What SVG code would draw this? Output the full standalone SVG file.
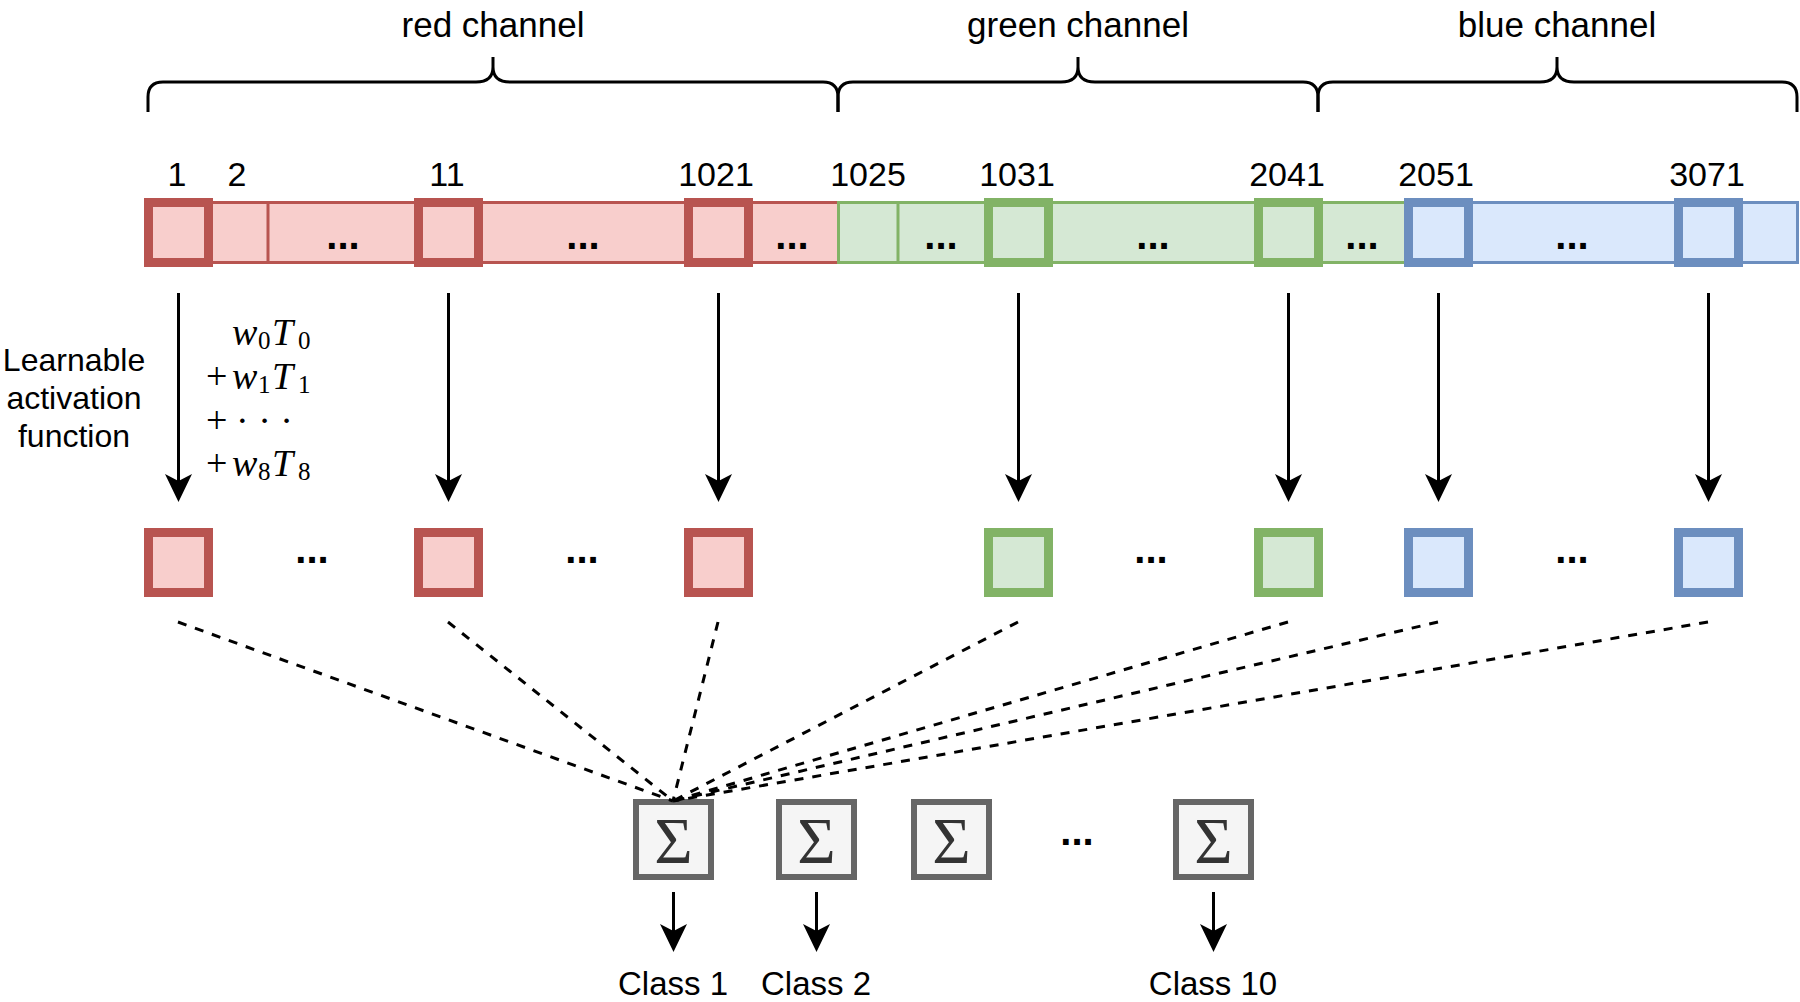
<svg xmlns="http://www.w3.org/2000/svg" width="1800" height="1002" viewBox="0 0 1800 1002">
<style>
.lbl{font-family:"Liberation Sans",Arial,sans-serif;fill:#000;text-anchor:middle}
.ch{font-size:35px}
.num{font-size:34px}
.side{font-size:32px}
.cls{font-size:33px}
.dots{font-family:"Liberation Sans",Arial,sans-serif;font-weight:bold;font-size:40px;text-anchor:middle;fill:#000}
.math{font-family:"Liberation Serif","Times New Roman",serif;font-style:italic;font-size:38px;fill:#000}
.up{font-style:normal;font-size:38px}
.sub{font-style:normal;font-size:25px}
.brace{fill:none;stroke:#000;stroke-width:3}
.r{fill:#f8cecc;stroke:#b85450}
.g{fill:#d5e8d4;stroke:#82b366}
.b{fill:#dae8fc;stroke:#6c8ebf}
.thin{stroke-width:3}
.thick{stroke-width:9}
.sig{fill:#f5f5f5;stroke:#666666;stroke-width:6}
.sigt{font-family:"Liberation Serif","Times New Roman",serif;font-size:66px;fill:#333333;text-anchor:middle}
.arr{stroke:#000;stroke-width:3;fill:none;marker-end:url(#ah)}
.dash{stroke:#000;stroke-width:3;fill:none;stroke-dasharray:9 9}
</style>
<defs>
<marker id="ah" markerUnits="userSpaceOnUse" markerWidth="60" markerHeight="60" viewBox="-40 -30 60 60" refX="-7" refY="0" orient="auto">
<path d="M0,0 L-28,-13.5 L-21,0 L-28,13.5 Z" fill="#000"/>
</marker>
</defs>

<g id="braces">
<path class="brace" d="M148,112 V97 Q148,82 163,82 H476 Q493,82 493,67 V57 V67 Q493,82 510,82 H823 Q838,82 838,97 V112"/>
<path class="brace" d="M838,112 V97 Q838,82 853,82 H1061 Q1078,82 1078,67 V57 V67 Q1078,82 1095,82 H1303 Q1318,82 1318,97 V112"/>
<path class="brace" d="M1318,112 V97 Q1318,82 1333,82 H1540 Q1557,82 1557,67 V57 V67 Q1557,82 1574,82 H1782 Q1797,82 1797,97 V112"/>
</g>
<g id="channel-labels">
<text class="lbl ch" x="493" y="37">red channel</text>
<text class="lbl ch" x="1078" y="37">green channel</text>
<text class="lbl ch" x="1557" y="37">blue channel</text>
</g>
<g id="index-labels">
<text class="lbl num" x="177" y="186">1</text>
<text class="lbl num" x="237" y="186">2</text>
<text class="lbl num" x="447" y="186">11</text>
<text class="lbl num" x="716" y="186">1021</text>
<text class="lbl num" x="868" y="186">1025</text>
<text class="lbl num" x="1017" y="186">1031</text>
<text class="lbl num" x="1287" y="186">2041</text>
<text class="lbl num" x="1436" y="186">2051</text>
<text class="lbl num" x="1707" y="186">3071</text>
</g>

<g id="input-bar">
<rect class="r thin" x="148.5" y="202.5" width="690" height="60"/>
<rect class="g thin" x="838.5" y="202.5" width="570" height="60"/>
<rect class="b thin" x="1408.5" y="202.5" width="389" height="60"/>
<line x1="268" y1="202.5" x2="268" y2="262.5" stroke="#b85450" stroke-width="3"/>
<line x1="898" y1="202.5" x2="898" y2="262.5" stroke="#82b366" stroke-width="3"/>
<text class="dots" x="343" y="249">...</text>
<text class="dots" x="583" y="249">...</text>
<text class="dots" x="792" y="249">...</text>
<text class="dots" x="941" y="249">...</text>
<text class="dots" x="1153" y="249">...</text>
<text class="dots" x="1362" y="249">...</text>
<text class="dots" x="1572" y="249">...</text>
</g>
<g id="in-1"><rect class="r thick" x="148.5" y="202.5" width="60" height="60"/></g>
<g id="in-11"><rect class="r thick" x="418.5" y="202.5" width="60" height="60"/></g>
<g id="in-1021"><rect class="r thick" x="688.5" y="202.5" width="60" height="60"/></g>
<g id="in-1031"><rect class="g thick" x="988.5" y="202.5" width="60" height="60"/></g>
<g id="in-2041"><rect class="g thick" x="1258.5" y="202.5" width="60" height="60"/></g>
<g id="in-2051"><rect class="b thick" x="1408.5" y="202.5" width="60" height="60"/></g>
<g id="in-3071"><rect class="b thick" x="1678.5" y="202.5" width="60" height="60"/></g>

<g id="activation-label">
<text class="lbl side" y="371"><tspan x="74">Learnable</tspan><tspan x="74" dy="38">activation</tspan><tspan x="74" dy="38">function</tspan></text>
</g>
<g id="formula">
<text class="math" y="345"><tspan x="232">w</tspan><tspan class="sub" x="258" dy="4">0</tspan><tspan x="272" dy="-4">T</tspan><tspan class="sub" x="298" dy="4">0</tspan></text>
<text class="math" y="389"><tspan class="up" x="206">+</tspan><tspan x="232">w</tspan><tspan class="sub" x="258" dy="4">1</tspan><tspan x="272" dy="-4">T</tspan><tspan class="sub" x="298" dy="4">1</tspan></text>
<text class="math" y="433"><tspan class="up" x="206">+</tspan><tspan class="up" x="236">· · ·</tspan></text>
<text class="math" y="476"><tspan class="up" x="206">+</tspan><tspan x="232">w</tspan><tspan class="sub" x="258" dy="4">8</tspan><tspan x="272" dy="-4">T</tspan><tspan class="sub" x="298" dy="4">8</tspan></text>
</g>

<g id="out-1"><rect class="r thick" x="148.5" y="532.5" width="60" height="60"/></g>
<g id="out-11"><rect class="r thick" x="418.5" y="532.5" width="60" height="60"/></g>
<g id="out-1021"><rect class="r thick" x="688.5" y="532.5" width="60" height="60"/></g>
<g id="out-1031"><rect class="g thick" x="988.5" y="532.5" width="60" height="60"/></g>
<g id="out-2041"><rect class="g thick" x="1258.5" y="532.5" width="60" height="60"/></g>
<g id="out-2051"><rect class="b thick" x="1408.5" y="532.5" width="60" height="60"/></g>
<g id="out-3071"><rect class="b thick" x="1678.5" y="532.5" width="60" height="60"/></g>
<g id="row2-dots">
<text class="dots" x="312" y="563">...</text>
<text class="dots" x="582" y="563">...</text>
<text class="dots" x="1151" y="563">...</text>
<text class="dots" x="1572" y="563">...</text>
</g>

<g id="sum-1"><rect class="sig" x="636" y="802" width="75" height="75"/><text class="sigt" x="673.5" y="863">Σ</text></g>
<g id="sum-2"><rect class="sig" x="779" y="802" width="75" height="75"/><text class="sigt" x="816.5" y="863">Σ</text></g>
<g id="sum-3"><rect class="sig" x="914" y="802" width="75" height="75"/><text class="sigt" x="951.5" y="863">Σ</text></g>
<g id="sum-10"><rect class="sig" x="1176" y="802" width="75" height="75"/><text class="sigt" x="1213.5" y="863">Σ</text></g>
<text class="dots" x="1077" y="845">...</text>

<g id="class-labels">
<text class="lbl cls" x="673" y="995">Class 1</text>
<text class="lbl cls" x="816" y="995">Class 2</text>
<text class="lbl cls" x="1213" y="995">Class 10</text>
</g>

<g id="connectors">
<line class="arr" x1="178.5" y1="293" x2="178.5" y2="495"/>
<line class="arr" x1="448.5" y1="293" x2="448.5" y2="495"/>
<line class="arr" x1="718.5" y1="293" x2="718.5" y2="495"/>
<line class="arr" x1="1018.5" y1="293" x2="1018.5" y2="495"/>
<line class="arr" x1="1288.5" y1="293" x2="1288.5" y2="495"/>
<line class="arr" x1="1438.5" y1="293" x2="1438.5" y2="495"/>
<line class="arr" x1="1708.5" y1="293" x2="1708.5" y2="495"/>
<line class="dash" x1="178" y1="622" x2="673" y2="801"/>
<line class="dash" x1="448" y1="622" x2="673" y2="801"/>
<line class="dash" x1="718" y1="622" x2="673" y2="801"/>
<line class="dash" x1="1018" y1="622" x2="673" y2="801"/>
<line class="dash" x1="1288" y1="622" x2="673" y2="801"/>
<line class="dash" x1="1438" y1="622" x2="673" y2="801"/>
<line class="dash" x1="1708" y1="622" x2="673" y2="801"/>
<line class="arr" x1="673.5" y1="892" x2="673.5" y2="945"/>
<line class="arr" x1="816.5" y1="892" x2="816.5" y2="945"/>
<line class="arr" x1="1213.5" y1="892" x2="1213.5" y2="945"/>
</g>
</svg>
